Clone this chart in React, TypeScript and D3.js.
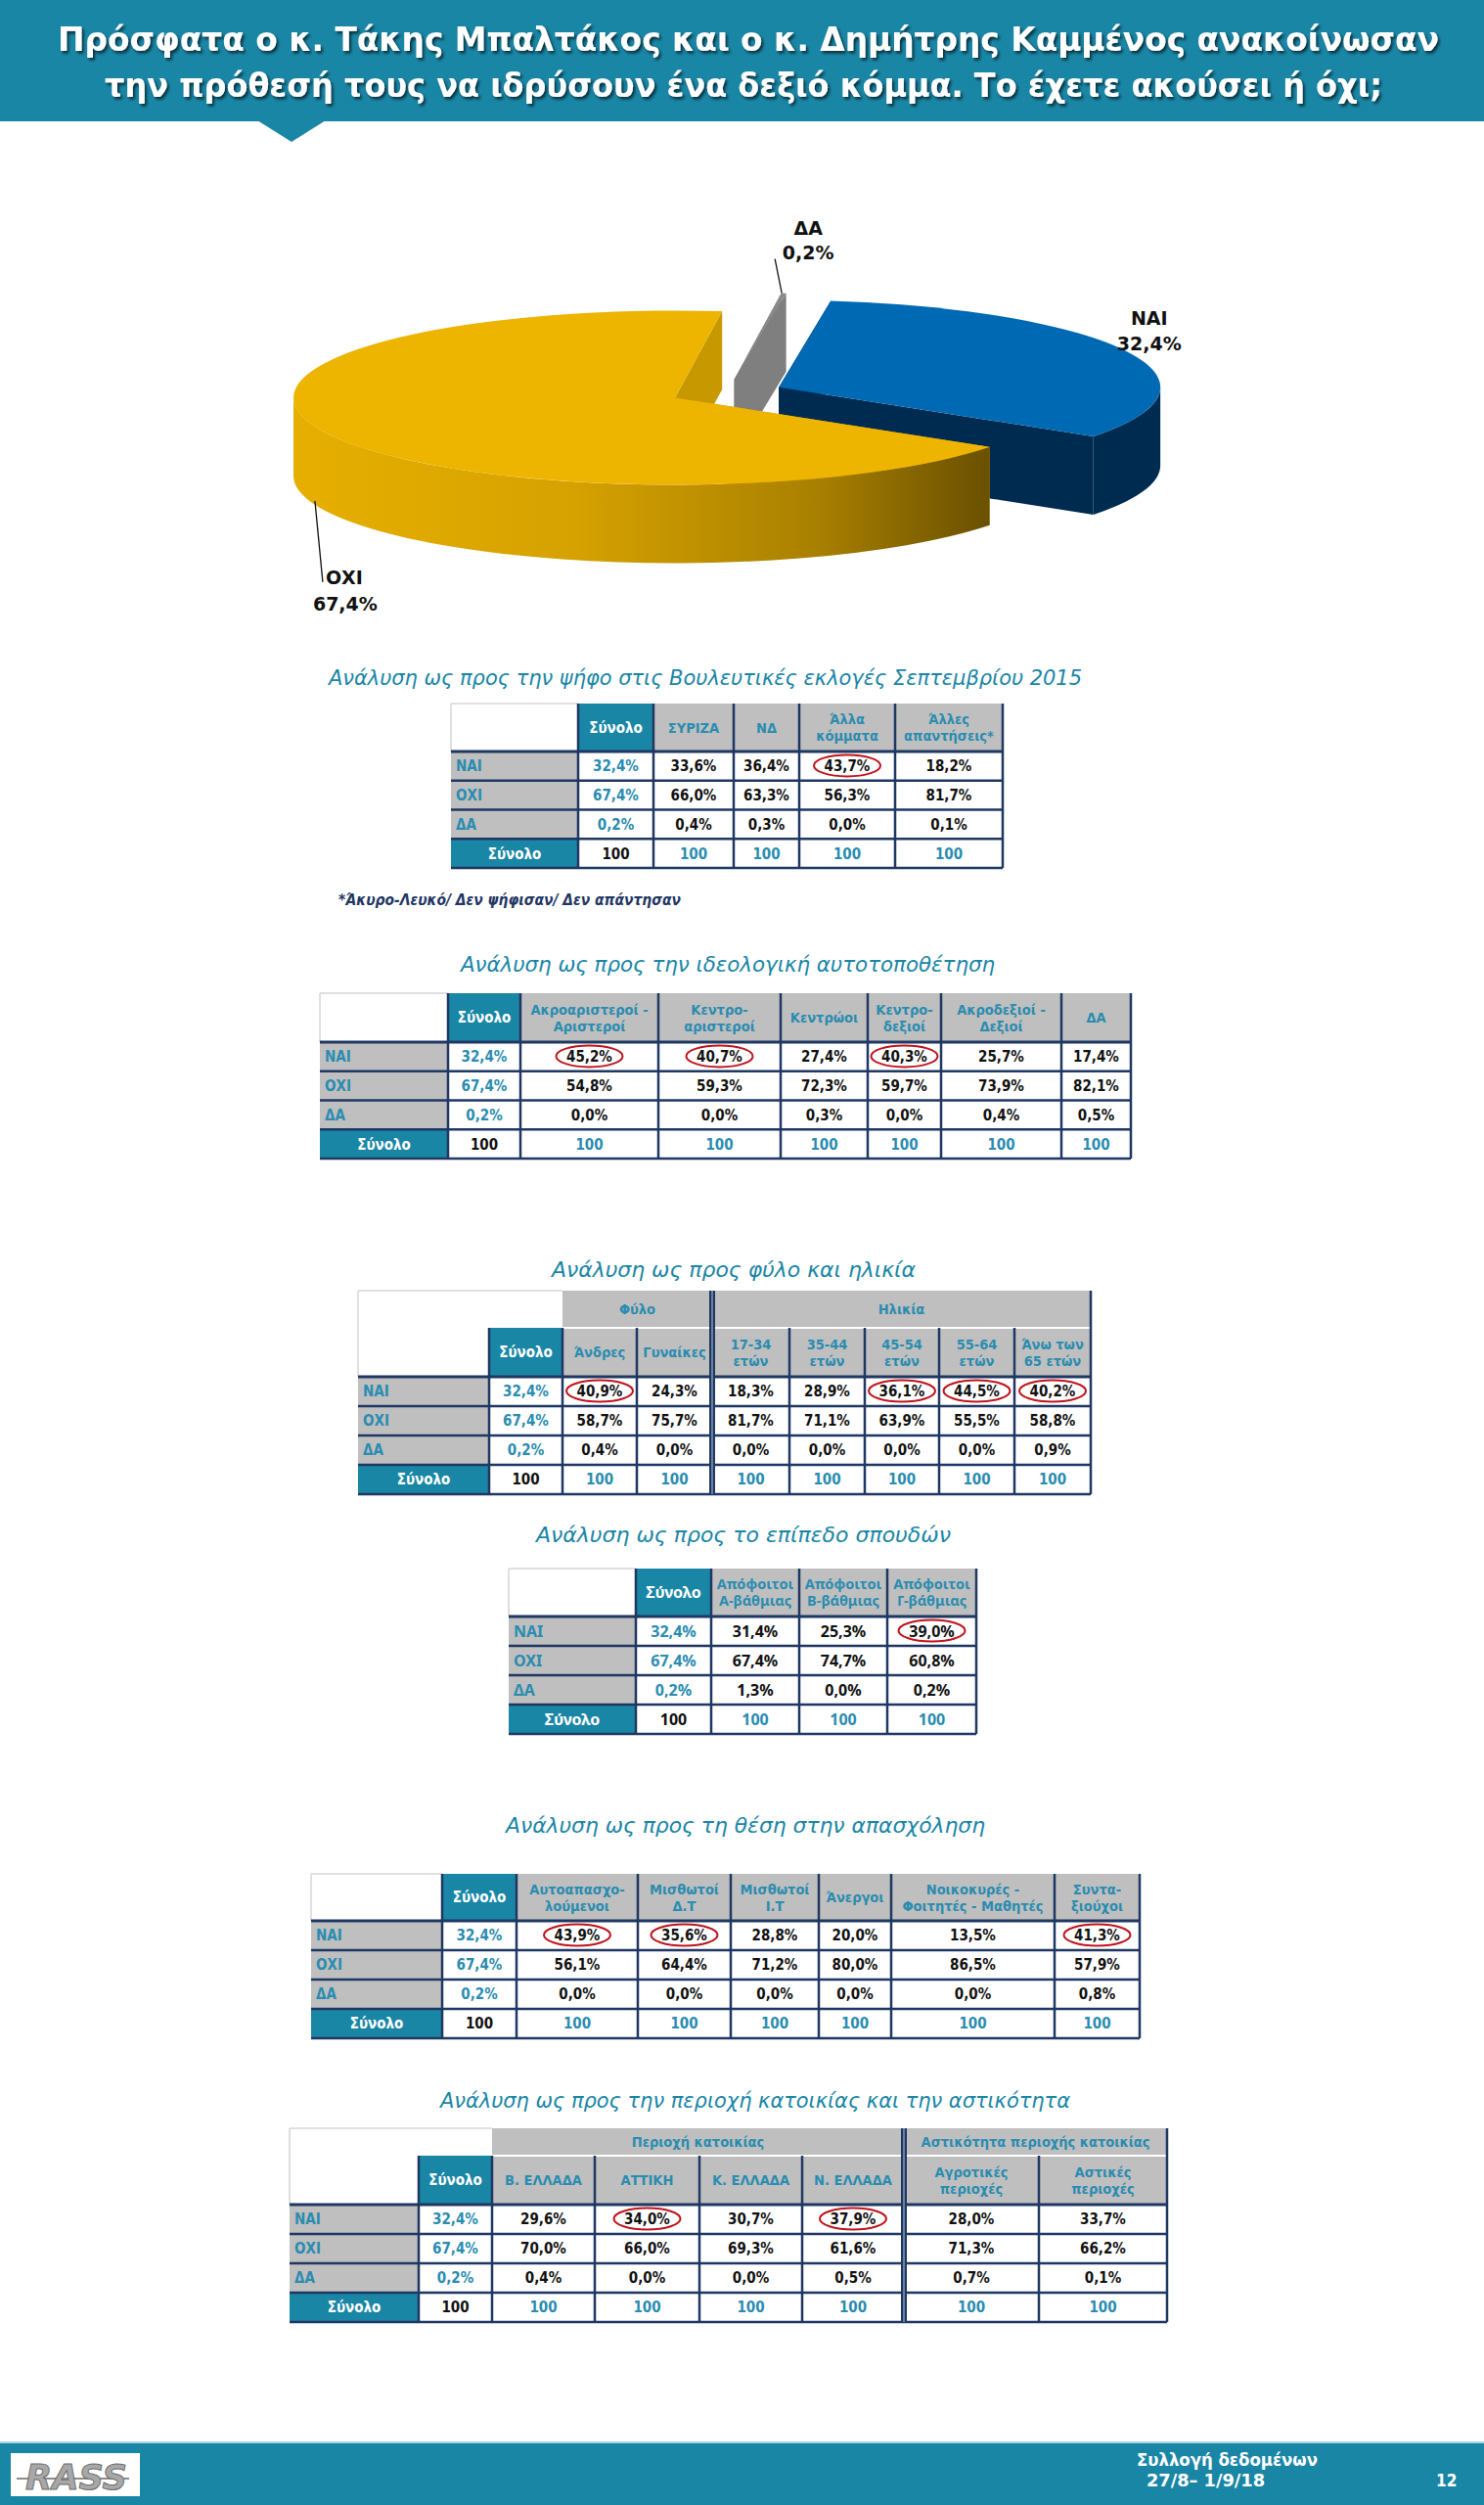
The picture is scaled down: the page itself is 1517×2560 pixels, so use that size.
import React, { useEffect } from 'react';
import * as d3 from 'd3';

const W = 1517;
const H = 2560;
const TEAL = '#1A86A6';
const TEAL_TXT = '#2A8CB0';
const GRAY = '#BFBFBF';
const NAVY = '#1F3763';
const RED = '#C0141C';
const COND = "'DejaVu Sans Condensed', 'DejaVu Sans', sans-serif";
const WIDE = "'Noto Sans', 'DejaVu Sans', sans-serif";

// ---------- Pie data ----------
const pieLabels = ['ΔΑ', 'ΝΑΙ', 'ΟΧΙ'];
const pieValues = [0.2, 32.4, 67.4];
const pieTop = ['#8A8A8A', '#0069B4', '#EDB400'];
const pieFace = ['#7F7F7F', '#002B50', '#C89800'];
const pieSide = ['#6E6E6E', '#002B50', 'url(#yside)'];

// ---------- Table data ----------
const rowLabels = ['ΝΑΙ', 'ΟΧΙ', 'ΔΑ'];
const totalLabel = 'Σύνολο';
const totalValue = '100';

const t1Title = 'Ανάλυση ως προς την ψήφο στις Βουλευτικές εκλογές Σεπτεμβρίου 2015';
const t1Columns = ['Σύνολο', 'ΣΥΡΙΖΑ', 'ΝΔ', 'Άλλα\nκόμματα', 'Άλλες\nαπαντήσεις*'];
const t1Yes = [32.4, 33.6, 36.4, 43.7, 18.2];
const t1No = [67.4, 66.0, 63.3, 56.3, 81.7];
const t1Dk = [0.2, 0.4, 0.3, 0.0, 0.1];
const t1Circled = [3];
const t1Note = '*Άκυρο-Λευκό/ Δεν ψήφισαν/ Δεν απάντησαν';

const t2Title = 'Ανάλυση ως προς την ιδεολογική αυτοτοποθέτηση';
const t2Columns = ['Σύνολο', 'Ακροαριστεροί -\nΑριστεροί', 'Κεντρο-\nαριστεροί', 'Κεντρώοι', 'Κεντρο-\nδεξιοί', 'Ακροδεξιοί -\nΔεξιοί', 'ΔΑ'];
const t2Yes = [32.4, 45.2, 40.7, 27.4, 40.3, 25.7, 17.4];
const t2No = [67.4, 54.8, 59.3, 72.3, 59.7, 73.9, 82.1];
const t2Dk = [0.2, 0.0, 0.0, 0.3, 0.0, 0.4, 0.5];
const t2Circled = [1, 2, 4];

const t3Title = 'Ανάλυση ως προς φύλο και ηλικία';
const t3Groups = [{ label: 'Φύλο', span: 2 }, { label: 'Ηλικία', span: 5 }];
const t3Columns = ['Σύνολο', 'Άνδρες', 'Γυναίκες', '17-34\nετών', '35-44\nετών', '45-54\nετών', '55-64\nετών', 'Άνω των\n65 ετών'];
const t3Yes = [32.4, 40.9, 24.3, 18.3, 28.9, 36.1, 44.5, 40.2];
const t3No = [67.4, 58.7, 75.7, 81.7, 71.1, 63.9, 55.5, 58.8];
const t3Dk = [0.2, 0.4, 0.0, 0.0, 0.0, 0.0, 0.0, 0.9];
const t3Circled = [1, 5, 6, 7];

const t4Title = 'Ανάλυση ως προς το επίπεδο σπουδών';
const t4Columns = ['Σύνολο', 'Απόφοιτοι\nΑ-βάθμιας', 'Απόφοιτοι\nΒ-βάθμιας', 'Απόφοιτοι\nΓ-βάθμιας'];
const t4Yes = [32.4, 31.4, 25.3, 39.0];
const t4No = [67.4, 67.4, 74.7, 60.8];
const t4Dk = [0.2, 1.3, 0.0, 0.2];
const t4Circled = [3];

const t5Title = 'Ανάλυση ως προς τη θέση στην απασχόληση';
const t5Columns = ['Σύνολο', 'Αυτοαπασχο-\nλούμενοι', 'Μισθωτοί\nΔ.Τ', 'Μισθωτοί\nΙ.Τ', 'Άνεργοι', 'Νοικοκυρές -\nΦοιτητές - Μαθητές', 'Συντα-\nξιούχοι'];
const t5Yes = [32.4, 43.9, 35.6, 28.8, 20.0, 13.5, 41.3];
const t5No = [67.4, 56.1, 64.4, 71.2, 80.0, 86.5, 57.9];
const t5Dk = [0.2, 0.0, 0.0, 0.0, 0.0, 0.0, 0.8];
const t5Circled = [1, 2, 6];

const t6Title = 'Ανάλυση ως προς την περιοχή κατοικίας και την αστικότητα';
const t6Groups = [{ label: 'Περιοχή κατοικίας', span: 4 }, { label: 'Αστικότητα περιοχής κατοικίας', span: 2 }];
const t6Columns = ['Σύνολο', 'Β. ΕΛΛΑΔΑ', 'ΑΤΤΙΚΗ', 'Κ. ΕΛΛΑΔΑ', 'Ν. ΕΛΛΑΔΑ', 'Αγροτικές\nπεριοχές', 'Αστικές\nπεριοχές'];
const t6Yes = [32.4, 29.6, 34.0, 30.7, 37.9, 28.0, 33.7];
const t6No = [67.4, 70.0, 66.0, 69.3, 61.6, 71.3, 66.2];
const t6Dk = [0.2, 0.4, 0.0, 0.0, 0.5, 0.7, 0.1];
const t6Circled = [2, 4];

const titleLine1 = 'Πρόσφατα ο κ. Τάκης Μπαλτάκος και ο κ. Δημήτρης Καμμένος ανακοίνωσαν';
const titleLine2 = 'την πρόθεσή τους να ιδρύσουν ένα δεξιό κόμμα. Το έχετε ακούσει ή όχι;';
const footLine1 = 'Συλλογή δεδομένων';
const footLine2 = '27/8– 1/9/18';
const pageNo = '12';

// ---------- Layout ----------
type Group = { label: string; span: number };
type Layout = { left: number; edges: number[]; top: number; groupBottom?: number; headBottom: number; rowH: number };
type TitleLayout = { x: number; y: number; w: number; anchor: 'start' | 'middle' };

const L1: Layout = { left: 461, edges: [591, 668, 750, 817, 915, 1025], top: 719, headBottom: 768, rowH: 29.75 };
const L2: Layout = { left: 327, edges: [458, 532, 673, 798, 887, 962, 1085, 1156], top: 1015, headBottom: 1065, rowH: 29.75 };
const L3: Layout = { left: 366, edges: [500, 575, 651, 728, 807, 884, 960, 1037, 1115], top: 1319, groupBottom: 1357, headBottom: 1407, rowH: 30 };
const L4: Layout = { left: 520, edges: [650, 727, 817, 907, 998], top: 1603, headBottom: 1652, rowH: 30 };
const L5: Layout = { left: 318, edges: [452, 528, 652, 747, 837, 911, 1078, 1165], top: 1915, headBottom: 1963, rowH: 30 };
const L6: Layout = { left: 296, edges: [428, 503, 608, 715, 820, 924, 1062, 1193], top: 2175, groupBottom: 2203, headBottom: 2253, rowH: 30 };

const TT1: TitleLayout = { x: 336, y: 700, w: 770, anchor: 'start' };
const TT2: TitleLayout = { x: 744, y: 993, w: 546, anchor: 'middle' };
const TT3: TitleLayout = { x: 750, y: 1305, w: 372, anchor: 'middle' };
const TT4: TitleLayout = { x: 760, y: 1576, w: 424, anchor: 'middle' };
const TT5: TitleLayout = { x: 762, y: 1873, w: 490, anchor: 'middle' };
const TT6: TitleLayout = { x: 772, y: 2154, w: 644, anchor: 'middle' };

const fmtPct = (v: number) => d3.format('.1f')(v).replace('.', ',') + '%';

type Spec = {
  title: string; tl: TitleLayout; columns: string[]; yes: number[]; no: number[]; dk: number[];
  circled: number[]; groups?: Group[]; layout: Layout; wide?: boolean;
};

const specs: Spec[] = [
  { title: t1Title, tl: TT1, columns: t1Columns, yes: t1Yes, no: t1No, dk: t1Dk, circled: t1Circled, layout: L1 },
  { title: t2Title, tl: TT2, columns: t2Columns, yes: t2Yes, no: t2No, dk: t2Dk, circled: t2Circled, layout: L2 },
  { title: t3Title, tl: TT3, columns: t3Columns, yes: t3Yes, no: t3No, dk: t3Dk, circled: t3Circled, layout: L3, groups: t3Groups },
  { title: t4Title, tl: TT4, columns: t4Columns, yes: t4Yes, no: t4No, dk: t4Dk, circled: t4Circled, layout: L4, wide: true },
  { title: t5Title, tl: TT5, columns: t5Columns, yes: t5Yes, no: t5No, dk: t5Dk, circled: t5Circled, layout: L5 },
  { title: t6Title, tl: TT6, columns: t6Columns, yes: t6Yes, no: t6No, dk: t6Dk, circled: t6Circled, layout: L6, groups: t6Groups },
];

function MultiLine({ x, cy, text, size, fill, family, weight }: any) {
  const lines = text.split('\n');
  const gap = size * 1.2;
  return (
    <text x={x} textAnchor="middle" fontFamily={family} fontSize={size} fill={fill} fontWeight={weight}>
      {lines.map((ln: string, k: number) => (
        <tspan key={k} x={x} y={cy + (k - (lines.length - 1) / 2) * gap + size * 0.36}>{ln}</tspan>
      ))}
    </text>
  );
}

function DataTable({ spec }: { spec: Spec }) {
  const L = spec.layout;
  const xs = [L.left, ...L.edges];
  const n = spec.columns.length;
  const fam = spec.wide ? WIDE : COND;
  const fs = spec.wide ? 16 : 15;
  const hs = spec.wide ? 14.5 : 14.5;
  const values = [spec.yes, spec.no, spec.dk];
  const rowTop = (r: number) => L.headBottom + r * L.rowH;
  const bottom = rowTop(4);
  const right = xs[xs.length - 1];
  const hdrTop = L.groupBottom ?? L.top;
  const cx = (i: number) => (xs[i + 1] + xs[i + 2]) / 2;
  const els: any[] = [];

  els.push(<line key="tlt" x1={L.left} x2={spec.groups ? xs[2] : xs[1]} y1={L.top} y2={L.top} stroke="#D6D6D6" strokeWidth={1.5} />);
  els.push(<line key="tll" x1={L.left} x2={L.left} y1={L.top} y2={L.headBottom} stroke="#D6D6D6" strokeWidth={1.5} />);

  const groupBounds: number[] = [];
  if (spec.groups) {
    let c = 1;
    spec.groups.forEach((g, gi) => {
      const x0 = xs[c + 1];
      const x1 = xs[c + g.span + 1];
      els.push(<rect key={'g' + gi} x={x0} y={L.top} width={x1 - x0} height={L.groupBottom! - L.top} fill={GRAY} />);
      els.push(<text key={'gt' + gi} x={(x0 + x1) / 2} y={(L.top + L.groupBottom!) / 2 + hs * 0.36} textAnchor="middle" fontFamily={fam} fontSize={hs} fontWeight="bold" fill={TEAL_TXT}>{g.label}</text>);
      c += g.span;
      if (gi < spec.groups!.length - 1) groupBounds.push(x1);
    });
  }

  spec.columns.forEach((col, i) => {
    const x0 = xs[i + 1];
    const x1 = xs[i + 2];
    els.push(<rect key={'h' + i} x={x0} y={hdrTop} width={x1 - x0} height={L.headBottom - hdrTop} fill={i === 0 ? TEAL : GRAY} />);
    els.push(
      <MultiLine key={'ht' + i} x={(x0 + x1) / 2} cy={(hdrTop + L.headBottom) / 2} text={col} size={i === 0 ? fs : hs}
        fill={i === 0 ? '#FFFFFF' : TEAL_TXT} family={fam} weight="bold" />
    );
  });

  for (let r = 0; r < 4; r++) {
    const y0 = rowTop(r);
    const yc = y0 + L.rowH / 2;
    const isTotal = r === 3;
    els.push(<rect key={'rl' + r} x={L.left} y={y0} width={xs[1] - L.left} height={L.rowH} fill={isTotal ? TEAL : GRAY} />);
    els.push(<rect key={'rd' + r} x={xs[1]} y={y0} width={right - xs[1]} height={L.rowH} fill="#FFFFFF" />);
    if (isTotal) {
      els.push(<text key={'rt' + r} x={(L.left + xs[1]) / 2} y={yc + fs * 0.36} textAnchor="middle" fontFamily={fam} fontSize={fs} fontWeight="bold" fill="#FFFFFF">{totalLabel}</text>);
    } else {
      els.push(<text key={'rt' + r} x={L.left + 5} y={yc + fs * 0.36} fontFamily={fam} fontSize={fs} fontWeight="bold" fill={TEAL_TXT}>{rowLabels[r]}</text>);
    }
    for (let i = 0; i < n; i++) {
      const txt = isTotal ? totalValue : fmtPct(values[r][i]);
      const teal = isTotal ? i !== 0 : i === 0;
      els.push(
        <text key={'v' + r + '_' + i} x={cx(i)} y={yc + fs * 0.36} textAnchor="middle" fontFamily={fam} fontSize={fs}
          fontWeight="bold" fill={teal ? TEAL_TXT : '#111111'}>{txt}</text>
      );
    }
  }

  spec.circled.forEach((i) => {
    const yc = rowTop(0) + L.rowH / 2 - 0.5;
    els.push(<ellipse key={'c' + i} cx={cx(i)} cy={yc} rx={34} ry={11} fill="none" stroke={RED} strokeWidth={2} />);
  });

  const hys = [L.headBottom, rowTop(1), rowTop(2), rowTop(3), bottom];
  hys.forEach((y, k) => {
    els.push(<line key={'hl' + k} x1={L.left} x2={right} y1={y} y2={y} stroke={NAVY} strokeWidth={k === 0 ? 3 : 2.5} />);
  });
  if (spec.groups) {
    els.push(<line key="gsep" x1={xs[2]} x2={right} y1={L.groupBottom} y2={L.groupBottom} stroke="#FFFFFF" strokeWidth={2} />);
  }

  for (let k = 1; k < xs.length; k++) {
    const x = xs[k];
    const isBound = groupBounds.includes(x);
    const isRight = k === xs.length - 1;
    const y0 = isBound || (isRight && spec.groups) ? L.top : hdrTop;
    if (isBound) {
      els.push(<line key={'vl' + k} x1={x} x2={x} y1={y0} y2={bottom} stroke={NAVY} strokeWidth={6} />);
      els.push(<line key={'vw' + k} x1={x} x2={x} y1={y0} y2={bottom} stroke="#9FB6C8" strokeWidth={1.2} />);
    } else {
      els.push(<line key={'vl' + k} x1={x} x2={x} y1={y0} y2={bottom} stroke={NAVY} strokeWidth={2.5} />);
    }
  }

  return (
    <g>
      <text x={spec.tl.x} y={spec.tl.y} textAnchor={spec.tl.anchor} fontFamily={spec.wide ? "'DejaVu Sans', sans-serif" : COND}
        fontStyle="italic" fontSize={22} fill={TEAL} textLength={spec.tl.w} lengthAdjust="spacingAndGlyphs">{spec.title}</text>
      {els}
    </g>
  );
}

// ---------- 3D pie ----------
const PIE = { cx: 743, cy: 401, rx: 390, ry: 89, depth: 80, explode: 0.149 };
const PIE_START = (7.1 * Math.PI) / 180;

function Pie3D() {
  const arcs = d3.pie<number>().sort(null).startAngle(PIE_START).endAngle(PIE_START + 2 * Math.PI)(pieValues);
  const items = arcs.map((a, i) => {
    const mid = (a.startAngle + a.endAngle) / 2;
    const c: [number, number] = [
      PIE.cx + PIE.explode * PIE.rx * Math.sin(mid),
      PIE.cy - PIE.explode * PIE.ry * Math.cos(mid),
    ];
    return { a, i, mid, c };
  });
  const pt = (c: [number, number], th: number, h = 0): [number, number] => [
    c[0] + PIE.rx * Math.sin(th),
    c[1] - PIE.ry * Math.cos(th) + h,
  ];
  const P = (p: [number, number]) => `${p[0].toFixed(2)},${p[1].toFixed(2)}`;
  const order = [...items].sort((u, v) => -Math.cos(u.mid) - -Math.cos(v.mid));

  const shapes = order.map(({ a, i, c }) => {
    const s = a.startAngle;
    const e = a.endAngle;
    const large = e - s > Math.PI ? 1 : 0;
    const top = `M${P(c)} L${P(pt(c, s))} A${PIE.rx},${PIE.ry} 0 ${large} 1 ${P(pt(c, e))} Z`;
    const face = (th: number) =>
      `M${P(c)} L${P(pt(c, th))} L${P(pt(c, th, PIE.depth))} L${P([c[0], c[1] + PIE.depth])} Z`;
    const sides: string[] = [];
    for (let k = 0; k < 2; k++) {
      const lo = Math.max(s, Math.PI / 2 + 2 * Math.PI * k);
      const hi = Math.min(e, (3 * Math.PI) / 2 + 2 * Math.PI * k);
      if (hi > lo) {
        sides.push(
          `M${P(pt(c, lo))} A${PIE.rx},${PIE.ry} 0 0 1 ${P(pt(c, hi))} L${P(pt(c, hi, PIE.depth))} A${PIE.rx},${PIE.ry} 0 0 0 ${P(pt(c, lo, PIE.depth))} Z`
        );
      }
    }
    return (
      <g key={i}>
        <path d={face(s)} fill={pieFace[i]} />
        <path d={face(e)} fill={pieFace[i]} />
        {sides.map((d, k) => <path key={k} d={d} fill={pieSide[i]} />)}
        <path d={top} fill={pieTop[i]} />
      </g>
    );
  });

  const dk = items[0];
  const dkP = pt(dk.c, dk.mid);
  const yes = items[1];
  const yesP = pt(yes.c, yes.mid);
  const no = items[2];
  const noAng = (250.7 * Math.PI) / 180;
  const noP = pt(no.c, noAng, PIE.depth);
  const lab = { fontFamily: "'DejaVu Sans', sans-serif", fontWeight: 'bold' as const, fontSize: 19, fill: '#111' };
  return (
    <g>
      <defs>
        <linearGradient id="yside" gradientUnits="userSpaceOnUse" x1={300} x2={1012} y1={0} y2={0}>
          <stop offset="0" stopColor="#E6AF00" />
          <stop offset="0.4" stopColor="#D6A200" />
          <stop offset="0.75" stopColor="#A98000" />
          <stop offset="1" stopColor="#6A5000" />
        </linearGradient>
      </defs>
      {shapes}
      <line x1={dkP[0] - 2} y1={dkP[1]} x2={dkP[0] - 9} y2={dkP[1] - 35} stroke="#111" strokeWidth={1.3} />
      <text {...lab} x={dkP[0] + 25} y={dkP[1] - 60} textAnchor="middle">{pieLabels[0]}</text>
      <text {...lab} x={dkP[0] + 25} y={dkP[1] - 35} textAnchor="middle">{fmtPct(pieValues[0])}</text>
      <text {...lab} x={yesP[0] + 22} y={yesP[1] - 28} textAnchor="middle">{pieLabels[1]}</text>
      <text {...lab} x={yesP[0] + 22} y={yesP[1] - 2} textAnchor="middle">{fmtPct(pieValues[1])}</text>
      <line x1={noP[0]} y1={noP[1] - 4} x2={noP[0] + 8} y2={noP[1] + 79} stroke="#111" strokeWidth={1.3} />
      <text {...lab} x={noP[0] + 11} y={noP[1] + 81}>{pieLabels[2]}</text>
      <text {...lab} x={noP[0] - 2} y={noP[1] + 108}>{fmtPct(pieValues[2])}</text>
    </g>
  );
}

export default function App() {
  useEffect(() => {
    document.body.style.margin = '0';
  }, []);
  return (
    <svg width={W} height={H} viewBox={`0 0 ${W} ${H}`} style={{ display: 'block', background: '#fff' }}>
      <defs>
        <filter id="tshadow" x="-5%" y="-30%" width="110%" height="160%">
          <feDropShadow dx="2" dy="2.5" stdDeviation="1.5" floodColor="#000" floodOpacity="0.65" />
        </filter>
      </defs>
      <rect x={0} y={0} width={W} height={H} fill="#FFFFFF" />
      <rect x={0} y={0} width={W} height={124} fill={TEAL} />
      <path d="M263,123 L333,123 L298,145 Z" fill={TEAL} />
      <g filter="url(#tshadow)" fontFamily="'DejaVu Sans', sans-serif" fontWeight="bold" fontSize={33} fill="#FFFFFF" textAnchor="middle">
        <text x={765} y={52} textLength={1412} lengthAdjust="spacingAndGlyphs">{titleLine1}</text>
        <text x={760} y={99} textLength={1306} lengthAdjust="spacingAndGlyphs">{titleLine2}</text>
      </g>

      <Pie3D />

      {specs.map((s, k) => <DataTable key={k} spec={s} />)}
      <text x={346} y={925} fontFamily={COND} fontStyle="italic" fontWeight="bold" fontSize={16} fill={NAVY} textLength={350} lengthAdjust="spacingAndGlyphs">{t1Note}</text>

      <rect x={0} y={2496} width={W} height={64} fill={TEAL} />
      <line x1={0} x2={W} y1={2496} y2={2496} stroke="#A8D8E8" strokeWidth={2} />
      <rect x={11} y={2507} width={132} height={44} fill="#FFFFFF" />
      <line x1={17} x2={132} y1={2533} y2={2533} stroke="#8C8C8C" strokeWidth={2} />
      <text x={26} y={2544} fontFamily="'DejaVu Sans', sans-serif" fontStyle="italic" fontWeight="bold" fontSize={36}
        fill="#A8A8A8" stroke="#6E6E6E" strokeWidth={1} textLength={104} lengthAdjust="spacingAndGlyphs">RASS</text>
      <g fontFamily={COND} fontWeight="bold" fontSize={17} fill="#FFFFFF">
        <text x={1162} y={2520} textLength={185} lengthAdjust="spacingAndGlyphs">{footLine1}</text>
        <text x={1172} y={2541} textLength={121} lengthAdjust="spacingAndGlyphs">{footLine2}</text>
        <text x={1468} y={2541}>{pageNo}</text>
      </g>
    </svg>
  );
}
